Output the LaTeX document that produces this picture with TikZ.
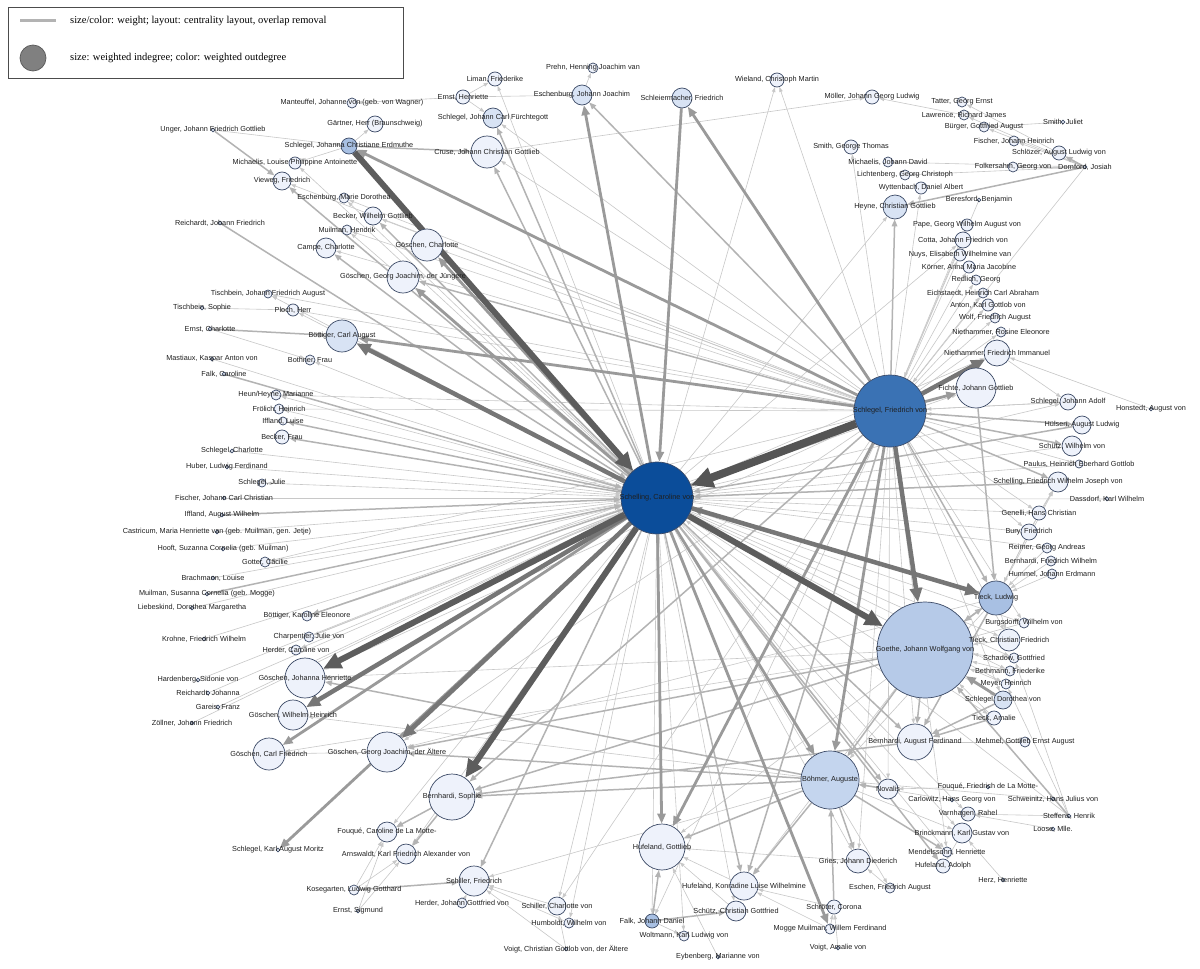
\documentclass[tikz,border=0pt]{standalone}
\usepackage{fontspec}
\setmainfont{Liberation Serif}
\newfontfamily\lbf{Liberation Sans}
\usetikzlibrary{arrows.meta,backgrounds}
\definecolor{c0}{HTML}{EEF2FB}
\definecolor{c1}{HTML}{D8E3F4}
\definecolor{c2}{HTML}{B6CAE8}
\definecolor{c2b}{HTML}{C4D5EE}
\definecolor{c3}{HTML}{A8C0E3}
\definecolor{cF}{HTML}{3A72B4}
\definecolor{cC}{HTML}{0B4D9A}
\definecolor{ndc}{HTML}{3C4A66}
\definecolor{g1}{HTML}{C8C8C8}
\definecolor{g2}{HTML}{B3B3B3}
\definecolor{g3}{HTML}{9A9A9A}
\definecolor{g4}{HTML}{767676}
\definecolor{g5}{HTML}{555555}
\tikzset{
 pc/.style={circle,draw=ndc,line width=0.7pt,inner sep=0pt},
 lbl/.style={font=\lbf\fontsize{7.3}{8}\selectfont,text=black!88,inner sep=0pt},
 e1/.style={draw=g1,line width=0.6pt,-{Triangle[length=5pt,width=3.5pt]}},
 e2/.style={draw=g2,line width=1.5pt,-{Triangle[length=7pt,width=5.5pt]}},
 e3/.style={draw=g3,line width=2.8pt,-{Triangle[length=10pt,width=8pt]}},
 e4/.style={draw=g4,line width=4.5pt,-{Triangle[length=14pt,width=12pt]}},
 e4d/.style={draw=g5!95!white,line width=6pt,-{Triangle[length=18pt,width=16pt]}},
 e5/.style={draw=g5,line width=8pt,-{Triangle[length=22pt,width=20pt]}},
 legtxt/.style={font=\fontsize{10.5}{12}\selectfont,anchor=west,inner sep=0pt}
}
\newcommand\pn[6]{\node[pc,fill=#5,minimum size=2*#4pt,label={[lbl]center:{#6}}] (#1) at (#2,#3) {};}
\begin{document}
\begin{tikzpicture}[x=1pt,y=-1pt]
\useasboundingbox (0,0) rectangle (1200,969);
% legend
\node[draw=black!70,line width=0.8pt,minimum width=395pt,minimum height=71pt,anchor=north west,inner sep=0pt] (legbox) at (8,7) {};
\coordinate (la) at (20,20); \coordinate (lb) at (56,20);
\draw[color=g2,line width=3pt] (la) -- (lb);
\node[legtxt] (lt1) at (70,21) {size/color: weight; layout: centrality layout, overlap removal};
\node[circle,draw=black!65,fill=black!50,line width=0.7pt,minimum size=26pt,inner sep=0pt] (lc) at (33,58) {};
\node[legtxt] (lt2) at (70,58) {size: weighted indegree; color: weighted outdegree};
% nodes
\pn{car}{657}{498}{36}{cC}{Schelling, Caroline von}
\pn{fri}{890}{411}{36}{cF}{Schlegel, Friedrich von}
\pn{goe}{925}{650}{48}{c2}{Goethe, Johann Wolfgang von}
\pn{boe}{830}{780}{29}{c2b}{Böhmer, Auguste}
\pn{tie}{996}{598}{17}{c3}{Tieck, Ludwig}
\pn{hug}{662}{847}{23}{c0}{Hufeland, Gottlieb}
\pn{bso}{452}{797}{23}{c0}{Bernhardi, Sophie}
\pn{baf}{915}{742}{18}{c0}{Bernhardi, August Ferdinand}
\pn{fic}{976}{388}{20}{c0}{Fichte, Johann Gottlieb}
\pn{nfi}{997}{353}{13}{c0}{Niethammer, Friedrich Immanuel}
\pn{nro}{1001}{332}{5}{c0}{Niethammer, Rosine Eleonore}
\pn{wol}{995}{318}{5}{c0}{Wolf, Friedrich August}
\pn{ant}{988}{305}{6}{c0}{Anton, Karl Gottlob von}
\pn{eic}{983}{293}{5}{c0}{Eichstaedt, Heinrich Carl Abraham}
\pn{red}{976}{280}{5}{c0}{Redlich, Georg}
\pn{koe}{969}{267}{6}{c0}{Körner, Anna Maria Jacobine}
\pn{nuy}{960}{255}{6}{c0}{Nuys, Elisabeth Wilhelmine van}
\pn{cot}{963}{240}{8}{c0}{Cotta, Johann Friedrich von}
\pn{pap}{967}{225}{6}{c0}{Pape, Georg Wilhelm August von}
\pn{ber}{979}{200}{1.8}{c0}{Beresford, Benjamin}
\pn{hey}{895}{207}{12}{c1}{Heyne, Christian Gottlieb}
\pn{wyt}{921}{188}{6}{c0}{Wyttenbach, Daniel Albert}
\pn{lic}{905}{175}{5}{c0}{Lichtenberg, Georg Christoph}
\pn{mjd}{888}{162}{5}{c0}{Michaelis, Johann David}
\pn{sgt}{851}{147}{7}{c0}{Smith, George Thomas}
\pn{fol}{1013}{167}{5}{c0}{Folkersahm, Georg von}
\pn{dor}{1085}{167}{1.8}{c0}{Dornford, Josiah}
\pn{slz}{1059}{153}{7}{c0}{Schlözer, August Ludwig von}
\pn{fjh}{1014}{141}{5}{c0}{Fischer, Johann Heinrich}
\pn{bue}{984}{127}{5}{c0}{Bürger, Gottfried August}
\pn{sju}{1063}{122}{1.8}{c0}{Smith, Juliet}
\pn{law}{964}{115}{5}{c0}{Lawrence, Richard James}
\pn{tat}{962}{102}{5}{c0}{Tatter, Georg Ernst}
\pn{moe}{872}{97}{7}{c0}{Möller, Johann Georg Ludwig}
\pn{wie}{777}{80}{7}{c0}{Wieland, Christoph Martin}
\pn{sch}{682}{98}{10}{c1}{Schleiermacher, Friedrich}
\pn{esj}{582}{95}{10}{c1}{Eschenburg, Johann Joachim}
\pn{pre}{593}{68}{5}{c0}{Prehn, Henning Joachim van}
\pn{lim}{495}{79}{7}{c0}{Liman, Friederike}
\pn{ehe}{463}{97}{7}{c0}{Ernst, Henriette}
\pn{sjc}{493}{118}{10}{c1}{Schlegel, Johann Carl Fürchtegott}
\pn{cru}{487}{152}{16}{c0}{Cruse, Johann Christian Gottlieb}
\pn{man}{352}{103}{5}{c0}{Manteuffel, Johanne von (geb. von Wagner)}
\pn{gae}{375}{124}{8}{c0}{Gärtner, Herr (Braunschweig)}
\pn{sje}{349}{146}{8}{c3}{Schlegel, Johanna Christiane Erdmuthe}
\pn{ung}{213}{130}{1.8}{c0}{Unger, Johann Friedrich Gottlieb}
\pn{mlp}{295}{163}{6}{c0}{Michaelis, Louise Philippine Antoinette}
\pn{vie}{282}{181}{9}{c0}{Vieweg, Friedrich}
\pn{emd}{344}{198}{5}{c0}{Eschenburg, Marie Dorothea}
\pn{bwg}{373}{216}{9}{c0}{Becker, Wilhelm Gottlieb}
\pn{rjf}{220}{223}{1.8}{c0}{Reichardt, Johann Friedrich}
\pn{muh}{347}{230}{5}{c0}{Muilman, Hendrik}
\pn{gch}{427}{245}{16}{c0}{Göschen, Charlotte}
\pn{cam}{326}{248}{10}{c0}{Campe, Charlotte}
\pn{ggj}{403}{277}{16}{c0}{Göschen, Georg Joachim, der Jüngere}
\pn{tja}{268}{294}{4}{c0}{Tischbein, Johann Friedrich August}
\pn{tso}{202}{308}{1.8}{c0}{Tischbein, Sophie}
\pn{plo}{293}{310}{6}{c0}{Ploch, Herr}
\pn{ech}{210}{329}{1.8}{c0}{Ernst, Charlotte}
\pn{bca}{342}{336}{16}{c1}{Böttiger, Carl August}
\pn{mas}{212}{359}{1.8}{c0}{Mastiaux, Kaspar Anton von}
\pn{bot}{310}{360}{5}{c0}{Bothner, Frau}
\pn{fca}{224}{374}{1.8}{c0}{Falk, Caroline}
\pn{heu}{276}{395}{5}{c0}{Heun/Heyne, Marianne}
\pn{fro}{279}{409}{5}{c0}{Frölich, Heinrich}
\pn{ilu}{283}{421}{4}{c0}{Iffland, Luise}
\pn{bfr}{282}{437}{7}{c0}{Becker, Frau}
\pn{sco}{232}{451}{1.8}{c0}{Schlegel, Charlotte}
\pn{hub}{227}{467}{1.8}{c0}{Huber, Ludwig Ferdinand}
\pn{sjl}{262}{483}{4}{c0}{Schlegel, Julie}
\pn{fjc}{224}{498}{1.8}{c0}{Fischer, Johann Carl Christian}
\pn{iaw}{222}{515}{1.8}{c0}{Iffland, August Wilhelm}
\pn{cas}{217}{532}{1.8}{c0}{Castricum, Maria Henriette van (geb. Muilman, gen. Jetje)}
\pn{hoo}{223}{549}{1.8}{c0}{Hooft, Suzanna Cornelia (geb. Muilman)}
\pn{got}{265}{562}{5}{c0}{Gotter, Cäcilie}
\pn{bra}{213}{578}{1.8}{c0}{Brachmann, Louise}
\pn{msc}{207}{594}{1.8}{c0}{Muilman, Susanna Cornelia (geb. Mogge)}
\pn{lie}{192}{608}{1.8}{c0}{Liebeskind, Dorothea Margaretha}
\pn{bke}{307}{616}{5}{c0}{Böttiger, Karoline Eleonore}
\pn{kro}{204}{639}{1.8}{c0}{Krohne, Friedrich Wilhelm}
\pn{cha}{309}{637}{5}{c0}{Charpentier, Julie von}
\pn{hca}{296}{650}{5}{c0}{Herder, Caroline von}
\pn{har}{198}{680}{1.8}{c0}{Hardenberg, Sidonie von}
\pn{gjh}{305}{678}{20}{c0}{Göschen, Johanna Henriette}
\pn{rjo}{208}{693}{1.8}{c0}{Reichardt, Johanna}
\pn{gar}{218}{707}{1.8}{c0}{Gareis, Franz}
\pn{gwh}{293}{715}{15}{c0}{Göschen, Wilhelm Heinrich}
\pn{zoe}{192}{723}{1.8}{c0}{Zöllner, Johann Friedrich}
\pn{gcf}{269}{754}{16}{c0}{Göschen, Carl Friedrich}
\pn{gga}{387}{752}{20}{c0}{Göschen, Georg Joachim, der Ältere}
\pn{skm}{278}{850}{1.8}{c0}{Schlegel, Karl August Moritz}
\pn{fcl}{387}{832}{10}{c0}{Fouqué, Caroline de La Motte-}
\pn{arn}{406}{854}{10}{c0}{Arnswaldt, Karl Friedrich Alexander von}
\pn{sfr}{474}{881}{15}{c0}{Schiller, Friedrich}
\pn{kos}{354}{890}{5}{c0}{Kosegarten, Ludwig Gotthard}
\pn{hjg}{462}{903}{5}{c0}{Herder, Johann Gottfried von}
\pn{esi}{358}{911}{1.8}{c0}{Ernst, Sigmund}
\pn{sct}{557}{906}{9}{c0}{Schiller, Charlotte von}
\pn{hum}{569}{923}{5}{c0}{Humboldt, Wilhelm von}
\pn{vcg}{566}{949}{1.8}{c0}{Voigt, Christian Gottlob von, der Ältere}
\pn{fjd}{652}{921}{7}{c3}{Falk, Johann Daniel}
\pn{wkl}{684}{936}{5}{c0}{Woltmann, Karl Ludwig von}
\pn{eyb}{718}{957}{1.8}{c0}{Eybenberg, Marianne von}
\pn{scg}{736}{911}{10}{c0}{Schütz, Christian Gottfried}
\pn{hkl}{744}{886}{14}{c0}{Hufeland, Konradine Luise Wilhelmine}
\pn{sro}{834}{907}{7}{c0}{Schröter, Corona}
\pn{mog}{830}{929}{5}{c0}{Mogge Muilman, Willem Ferdinand}
\pn{vam}{838}{948}{1.8}{c0}{Voigt, Amalie von}
\pn{gri}{858}{861}{12}{c0}{Gries, Johann Diederich}
\pn{esc}{890}{888}{5}{c0}{Eschen, Friedrich August}
\pn{nov}{888}{789}{10}{c0}{Novalis}
\pn{mme}{947}{852}{5}{c0}{Mendelssohn, Henriette}
\pn{hua}{943}{866}{7}{c0}{Hufeland, Adolph}
\pn{bri}{962}{833}{10}{c0}{Brinckmann, Karl Gustav von}
\pn{var}{968}{814}{7}{c0}{Varnhagen, Rahel}
\pn{hez}{1003}{880}{1.8}{c0}{Herz, Henriette}
\pn{fqf}{988}{787}{1.8}{c0}{Fouqué, Friedrich de La Motte-}
\pn{clw}{952}{800}{1.8}{c0}{Carlowitz, Hans Georg von}
\pn{swz}{1053}{799}{1.8}{c0}{Schweinitz, Hans Julius von}
\pn{ste}{1069}{816}{1.8}{c0}{Steffens, Henrik}
\pn{loo}{1053}{829}{1.8}{c0}{Loose, Mlle.}
\pn{meh}{1025}{742}{5}{c0}{Mehmel, Gottlieb Ernst August}
\pn{tam}{994}{718}{7}{c0}{Tieck, Amalie}
\pn{dov}{1003}{700}{9}{c1}{Schlegel, Dorothea von}
\pn{mey}{1006}{684}{5}{c0}{Meyer, Heinrich}
\pn{bet}{1010}{671}{5}{c0}{Bethmann, Friederike}
\pn{sha}{1014}{658}{5}{c0}{Schadow, Gottfried}
\pn{tcf}{1009}{640}{11}{c0}{Tieck, Christian Friedrich}
\pn{bgd}{1024}{623}{5}{c0}{Burgsdorff, Wilhelm von}
\pn{hue}{1052}{574}{5}{c0}{Hummel, Johann Erdmann}
\pn{bfw}{1051}{561}{5}{c0}{Bernhardi, Friedrich Wilhelm}
\pn{rei}{1047}{548}{5}{c0}{Reimer, Georg Andreas}
\pn{bry}{1029}{532}{8}{c0}{Bury, Friedrich}
\pn{gen}{1039}{513}{7}{c0}{Genelli, Hans Christian}
\pn{das}{1107}{499}{1.8}{c0}{Dassdorf, Karl Wilhelm}
\pn{sfw}{1058}{482}{10}{c0}{Schelling, Friedrich Wilhelm Joseph von}
\pn{pau}{1079}{464}{4}{c0}{Paulus, Heinrich Eberhard Gottlob}
\pn{swv}{1072}{446}{10}{c0}{Schütz, Wilhelm von}
\pn{hul}{1082}{425}{9}{c0}{Hülsen, August Ludwig}
\pn{sja}{1068}{402}{8}{c0}{Schlegel, Johann Adolf}
\pn{hon}{1151}{409}{1.8}{c0}{Honstedt, August von}
% edges
\begin{scope}[on background layer]
\fill[white] (0,0) rectangle (1200,969);
\foreach \a/\b in {mas/car, car/heu, car/fro, sco/car, hub/car, car/sjl, fjc/car, cas/car, hoo/car, car/got, bra/car, lie/car, kro/car, car/cha, car/hca, har/car, rjo/car, gar/car, zoe/car,
 car/tja, tso/plo, car/plo, ech/bot, car/bot, fri/bwg, fri/gch, fri/cam, fri/vie, car/mlp, car/emd, car/muh, sje/gae, sje/mlp, ung/sje, car/lim, ehe/lim, ehe/man, ehe/sjc, esj/pre, ehe/esj, fri/sjc, fri/cru, cru/moe, car/wie, fri/wie,
 dor/tat, dor/law, dor/fjh, dor/fol, dor/lic, dor/mjd, dor/bue, dor/fri, sju/bue, law/moe, ber/fri, fri/sgt, fri/wyt, fri/pap, fri/nuy, fri/koe, fri/red, fri/eic, fri/ant, fri/wol, fri/nro, car/cot, car/hey,
 fri/sja, nfi/sja, hon/nfi, car/swv, fri/pau, car/sfw, das/car, fri/gen, fri/bry, car/bry, bry/sfw, gen/sfw, tie/sfw, gen/tie, bry/tie, rei/tie, bfw/tie, hue/tie, bgd/goe, car/tcf, fri/tcf, tie/tcf, tam/goe, mey/goe, bet/goe, sha/goe, tcf/goe, meh/baf, ste/mey, ste/sha, ste/car, ste/var, loo/var, hez/bri, boe/bri, car/bri, bri/hua, fri/mme, fqf/nov, clw/boe, swz/boe, fri/nov, car/gri, esc/gri, fri/gri, vam/sro, mog/sro, mog/hkl, sro/hkl, car/scg, fjd/wkl, hug/fjd, eyb/hug, hkl/hug, scg/hug, gri/hug, car/sct, fri/sct, vcg/sct, vcg/sfr, hum/sfr, sct/sfr, boe/sfr, hjg/sfr, kos/arn, esi/arn, esi/fcl, kos/fcl, gga/gcf, car/arn, car/fcl, fri/gga, fri/gjh, goe/gjh, tie/gga, car/fjd, car/wkl, fri/fjd, car/hum, car/esc,
 car/dov, fri/dov, car/tam, car/mey, car/sha, car/bet, car/bgd, fri/bgd, car/rei, car/gen, car/pau, car/sja, car/var, car/mme, goe/hkl, goe/hug, tie/boe, fri/baf, car/fic, car/nfi, fri/emd, fri/muh, car/sje, fri/plo, fri/tja, fri/heu, fri/fro, fri/got, fri/bke, fri/cha, boe/gwh, goe/gcf, goe/fri, hul/fri, sja/fri, fri/cot}
 \draw[e1] (\a) -- (\b);
\foreach \a/\b in {ung/vie, rjf/car, fca/car, car/ilu, car/bfr, iaw/car, msc/car, car/bke, ech/bca, sje/cru, car/sjc, car/cru, car/vie, car/bwg, car/cam, fri/ggj, fri/esj, boe/gjh, boe/gga, boe/bso, goe/bso, baf/bso, bso/fcl, bso/arn, kos/sfr, fjd/hug, car/hkl, boe/hkl, fjd/scg, sro/boe, boe/gri, boe/mme, car/hua, nov/boe, ste/goe, tie/baf, tam/baf, dov/baf, tie/goe, goe/tie, fri/tie, fic/tie, fri/hul, hul/car, fri/swv, fri/sfw, sfw/car, fri/hey, dor/hey, dor/slz, goe/boe, goe/baf, boe/hug, car/baf, car/sfr, goe/gga, fri/bso, car/nov, fri/hkl}
 \draw[e2] (\a) -- (\b);
\foreach \a/\b in {sch/car, fri/sch, fri/boe, fri/hug, car/hug, fri/sje, fri/bca, car/gcf, car/skm, car/ggj, car/gch, car/boe, tie/car, dov/goe, fri/fic, car/esj, car/mog, car/fri}
 \draw[e3] (\a) -- (\b);
\foreach \a/\b in {car/bca, car/gga, car/gwh, fri/goe, fri/nfi, car/tie}
 \draw[e4] (\a) -- (\b);
\foreach \a/\b in {sje/car, car/goe, car/bso, car/gjh}
 \draw[e4d] (\a) -- (\b);
\draw[e5] (fri) -- (car);
\end{scope}
\end{tikzpicture}
\end{document}
